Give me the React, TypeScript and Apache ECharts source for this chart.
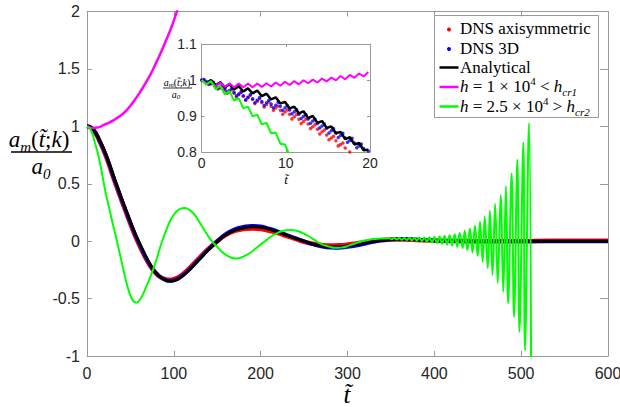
import React, { useEffect, useRef } from "react";
import * as echarts from "echarts";

// ---------- main plot data: [t, a_m/a_0] ----------
const dnsAxiMain: [number, number][] = [
  [0, 1.0], [5, 0.985], [10, 0.94], [15, 0.86], [20, 0.775], [25, 0.675], [30, 0.56], [35, 0.455],
  [40, 0.35], [45, 0.25], [50, 0.15], [55, 0.055], [60, -0.03], [65, -0.11], [70, -0.18], [75, -0.24],
  [80, -0.285], [85, -0.315], [90, -0.33], [95, -0.335], [100, -0.33], [105, -0.315], [110, -0.29],
  [120, -0.22], [130, -0.14], [140, -0.065], [150, 0.0], [160, 0.055], [170, 0.09], [180, 0.105],
  [190, 0.11], [200, 0.105], [210, 0.09], [220, 0.07], [230, 0.045], [240, 0.02], [250, -0.005],
  [260, -0.022], [270, -0.033], [280, -0.038], [290, -0.036], [300, -0.03], [310, -0.02], [320, -0.008],
  [330, 0.003], [340, 0.01], [350, 0.014], [360, 0.015], [370, 0.013], [380, 0.01], [400, 0.005],
  [420, 0.002], [450, 0.0], [500, 0.0], [530, 0.003], [600, 0.003],
];

const dns3dMain: [number, number][] = [
  [0, 1.0], [5, 0.988], [10, 0.94], [15, 0.865], [20, 0.78], [25, 0.685], [30, 0.57], [35, 0.465],
  [40, 0.36], [45, 0.26], [50, 0.16], [55, 0.065], [60, -0.02], [65, -0.1], [70, -0.175], [75, -0.235],
  [80, -0.28], [85, -0.315], [90, -0.335], [95, -0.345], [100, -0.34], [105, -0.325], [110, -0.3],
  [120, -0.23], [130, -0.15], [140, -0.07], [150, 0.0], [160, 0.065], [170, 0.105], [180, 0.125],
  [190, 0.135], [200, 0.13], [210, 0.11], [220, 0.085], [230, 0.055], [240, 0.028], [250, 0.0],
  [260, -0.028], [270, -0.047], [280, -0.058], [290, -0.06], [300, -0.052], [310, -0.04], [320, -0.024],
  [330, -0.008], [340, 0.005], [350, 0.014], [360, 0.018], [370, 0.018], [380, 0.015], [390, 0.01],
  [400, 0.006], [420, 0.0], [450, -0.003], [500, -0.003], [600, -0.003],
];

const analyticalMain: [number, number][] = [
  [0, 1.0], [5, 0.99], [10, 0.945], [15, 0.875], [20, 0.79], [25, 0.69], [30, 0.58], [35, 0.475],
  [40, 0.37], [45, 0.27], [50, 0.17], [55, 0.075], [60, -0.01], [65, -0.09], [70, -0.165], [75, -0.23],
  [80, -0.28], [85, -0.315], [90, -0.34], [95, -0.35], [100, -0.345], [105, -0.33], [110, -0.305],
  [120, -0.235], [130, -0.155], [140, -0.075], [150, -0.005], [160, 0.055], [170, 0.095], [180, 0.115],
  [190, 0.125], [200, 0.122], [210, 0.105], [220, 0.08], [230, 0.052], [240, 0.025], [250, 0.0],
  [260, -0.025], [270, -0.042], [280, -0.05], [290, -0.05], [300, -0.042], [310, -0.03], [320, -0.015],
  [330, -0.002], [340, 0.008], [350, 0.014], [360, 0.017], [370, 0.016], [380, 0.012], [390, 0.008],
  [400, 0.004], [420, 0.0], [450, -0.002], [500, 0.0], [600, 0.0],
];

const hLowMain: [number, number][] = [
  [0, 1.0], [5, 0.985], [10, 0.988], [15, 0.995], [20, 1.015], [25, 1.03], [30, 1.05], [35, 1.075],
  [40, 1.1], [45, 1.135], [50, 1.18], [55, 1.23], [60, 1.285], [65, 1.345], [70, 1.41], [75, 1.48],
  [80, 1.56], [85, 1.64], [90, 1.73], [95, 1.82], [100, 1.92], [106, 2.06],
];

const hHighMain: [number, number][] = [
  [0, 1.0], [3, 0.985], [6, 0.94], [9, 0.86], [12, 0.78], [15, 0.68], [18, 0.56], [21, 0.44],
  [24, 0.34], [27, 0.24], [30, 0.14], [33, 0.05], [36, -0.05], [39, -0.15], [42, -0.25], [45, -0.35],
  [48, -0.43], [51, -0.49], [54, -0.525], [57, -0.535], [60, -0.52], [64, -0.47], [68, -0.4],
  [72, -0.33], [76, -0.25], [80, -0.16], [84, -0.06], [88, 0.03], [92, 0.11], [96, 0.18], [100, 0.23],
  [104, 0.265], [108, 0.283], [112, 0.288], [116, 0.282], [120, 0.26], [125, 0.22], [130, 0.16],
  [135, 0.1], [140, 0.04], [145, -0.01], [150, -0.05], [155, -0.09], [160, -0.12], [165, -0.14],
  [170, -0.15], [175, -0.148], [180, -0.135], [185, -0.115], [190, -0.09], [195, -0.06], [200, -0.03],
  [205, 0.0], [210, 0.03], [215, 0.055], [220, 0.075], [225, 0.088], [230, 0.095], [235, 0.097],
  [240, 0.093], [245, 0.082], [250, 0.065], [255, 0.045], [260, 0.02], [265, -0.005], [270, -0.025],
  [275, -0.04], [280, -0.05], [285, -0.057], [290, -0.058], [295, -0.053], [300, -0.043], [305, -0.03],
  [310, -0.017], [315, -0.005], [320, 0.005], [325, 0.013], [330, 0.019], [335, 0.022], [340, 0.023],
  [345, 0.024], [348, 0.025], [350.9, 0.017], [353.8, 0.027], [356.7, 0.014], [359.6, 0.028],
  [362.5, 0.012], [365.4, 0.028], [368.3, 0.01], [371.2, 0.029], [374.1, 0.007], [377, 0.03],
  [379.9, 0.004], [382.8, 0.031], [385.7, 0.0], [388.6, 0.032], [391.5, -0.005], [394.4, 0.034],
  [397.3, -0.01], [400.2, 0.036], [403.1, -0.016], [406, 0.04], [408.9, -0.023], [411.8, 0.045],
  [414.7, -0.03], [417.6, 0.052], [420.5, -0.038], [423.4, 0.06], [426.3, -0.048], [429.2, 0.072],
  [432.7, -0.06], [435, 0.09], [438, -0.078], [441, 0.11], [444, -0.1], [446.8, 0.135], [450, -0.13],
  [452.6, 0.17], [455.7, -0.18], [458, 0.215], [461.5, -0.235], [464, 0.265], [467, -0.295],
  [470, 0.325], [473, -0.365], [476.4, 0.4], [479.4, -0.44], [482.5, 0.48], [485, -0.54], [489, 0.59],
  [491.8, -0.66], [495.6, 0.71], [498, -0.79], [502.5, 0.86], [504.4, -0.95], [509, 1.03], [511.5, -1.2],
];

// ---------- inset data (t from 0 to 20) ----------
const INSET_DNS_STEP = 0.275;
const insetDnsAxi: number[] = [
  1.0, 1.0, 0.994, 0.988, 0.989, 0.991, 0.983, 0.975, 0.978, 0.982, 0.972, 0.963, 0.967, 0.973, 0.963,
  0.953, 0.959, 0.965, 0.955, 0.944, 0.951, 0.958, 0.946, 0.935, 0.941, 0.948, 0.937, 0.925, 0.932,
  0.939, 0.927, 0.916, 0.922, 0.928, 0.916, 0.905, 0.911, 0.917, 0.905, 0.892, 0.898, 0.904, 0.891,
  0.879, 0.885, 0.891, 0.878, 0.865, 0.87, 0.876, 0.863, 0.85, 0.856, 0.861, 0.847, 0.834, 0.839,
  0.844, 0.831, 0.817, 0.821, 0.825, 0.811, 0.796, 0.8,
];
const insetDns3d: number[] = [
  1.0, 1.001, 0.996, 0.989, 0.991, 0.994, 0.986, 0.978, 0.981, 0.986, 0.976, 0.967, 0.971, 0.977,
  0.966, 0.956, 0.961, 0.967, 0.956, 0.945, 0.952, 0.959, 0.948, 0.937, 0.944, 0.951, 0.94, 0.929,
  0.937, 0.944, 0.933, 0.923, 0.93, 0.938, 0.927, 0.916, 0.923, 0.929, 0.917, 0.906, 0.912, 0.918,
  0.905, 0.893, 0.899, 0.904, 0.892, 0.88, 0.886, 0.891, 0.879, 0.867, 0.872, 0.878, 0.866, 0.853,
  0.859, 0.865, 0.853, 0.84, 0.846, 0.852, 0.839, 0.827, 0.832, 0.838, 0.825, 0.812, 0.817, 0.822,
  0.81, 0.797, 0.803,
];
const INSET_LINE_STEP = 0.55;
const insetAnalytical: number[] = [
  1.0, 0.991, 1.0, 0.985, 0.994, 0.979, 0.988, 0.974, 0.983, 0.968, 0.977, 0.963, 0.971, 0.955, 0.962,
  0.946, 0.952, 0.935, 0.939, 0.921, 0.926, 0.907, 0.913, 0.894, 0.9, 0.881, 0.886, 0.867, 0.871,
  0.852, 0.856, 0.836, 0.841, 0.821, 0.825, 0.805, 0.806,
];
const insetHLow: number[] = [
  1.0, 0.99, 0.995, 0.983, 0.992, 0.981, 0.991, 0.98, 0.99, 0.98, 0.99, 0.98, 0.99, 0.981, 0.991,
  0.982, 0.993, 0.984, 0.995, 0.986, 0.997, 0.988, 0.999, 0.991, 1.001, 0.993, 1.004, 0.996, 1.007,
  0.999, 1.011, 1.002, 1.014, 1.006, 1.018, 1.01, 1.022,
];
const insetHHigh: number[] = [
  1.0, 0.987, 0.997, 0.974, 0.984, 0.96, 0.969, 0.943, 0.949, 0.921, 0.926, 0.899, 0.904, 0.877,
  0.881, 0.852, 0.854, 0.823, 0.821, 0.79,
];

// ---------- axes ----------
const mainXTicks = { min: 0, max: 600, interval: 100 };
const mainYTicks = { min: -1, max: 2, interval: 0.5 };
const insetXTicks = { min: 0, max: 20, interval: 10 };
const insetYTicks = { min: 0.8, max: 1.1, interval: 0.1 };

const legendLabels = [
  "DNS axisymmetric",
  "DNS 3D",
  "Analytical",
  "{i|h} = 1 × 10{sup|4} < {i|h}{sub|cr1}",
  "{i|h} = 2.5 × 10{sup|4} > {i|h}{sub|cr2}",
];

const RED = "#ff0000";
const BLUE = "#0000ff";
const BLACK = "#000000";
const MAGENTA = "#ff00ff";
const GREEN = "#00ff00";
const AXIS = "#9a9a9a";
const LABEL = "#262626";
const SERIF = "Liberation Serif";
const SANS = "Liberation Sans";

const withStep = (vals: number[], step: number): [number, number][] =>
  vals.map((v, i) => [i * step, v]);

function axis(gridIndex: number, position: string, ticks: any, showLabel: boolean, size: number, margin: number, tickLen: number) {
  return {
    gridIndex,
    type: "value",
    position,
    ...ticks,
    axisLine: { show: true, onZero: false, lineStyle: { color: AXIS, width: 1 } },
    axisTick: { show: true, inside: true, length: tickLen, lineStyle: { color: AXIS, width: 1 } },
    axisLabel: { show: showLabel, fontSize: size, color: LABEL, fontFamily: SANS, margin },
    splitLine: { show: false },
  };
}

const richMath = (size: number) => ({
  i: { fontStyle: "italic", fontSize: size, fontFamily: SERIF, lineHeight: Math.round(size * 1.3) },
  n: { fontSize: size, fontFamily: SERIF, lineHeight: Math.round(size * 1.3) },
  sup: { fontSize: Math.round(size * 0.65), fontFamily: SERIF, verticalAlign: "top", lineHeight: Math.round(size * 0.7) },
  sub: { fontSize: Math.round(size * 0.65), fontFamily: SERIF, fontStyle: "italic", verticalAlign: "bottom", lineHeight: Math.round(size * 0.7) },
});

export default function App() {
  const ref = useRef<HTMLDivElement>(null);
  useEffect(() => {
    if (!ref.current) return;
    const chart = echarts.init(ref.current, undefined, { renderer: "svg" });
    const legendRows = [28.5, 48, 67, 86.5, 106];
    const legendGraphics: any[] = [
      { type: "rect", shape: { x: 434.5, y: 15.5, width: 164, height: 102 }, style: { fill: "#fff", stroke: AXIS, lineWidth: 1 } },
      { type: "circle", shape: { cx: 449, cy: 29.5, r: 2 }, style: { fill: RED } },
      { type: "circle", shape: { cx: 449, cy: 49, r: 2 }, style: { fill: BLUE } },
      { type: "line", shape: { x1: 439.5, y1: 67.5, x2: 458.5, y2: 67.5 }, style: { stroke: BLACK, lineWidth: 2.5 } },
      { type: "line", shape: { x1: 439.5, y1: 87, x2: 458.5, y2: 87 }, style: { stroke: MAGENTA, lineWidth: 2.5 } },
      { type: "line", shape: { x1: 439.5, y1: 106.5, x2: 458.5, y2: 106.5 }, style: { stroke: GREEN, lineWidth: 2.5 } },
    ];
    legendLabels.forEach((t, i) => {
      legendGraphics.push({
        type: "text",
        x: 460,
        y: legendRows[i],
        style: {
          text: t,
          fontSize: 17,
          fontFamily: SERIF,
          fill: "#000",
          verticalAlign: "middle",
          lineHeight: 22,
          rich: richMath(17),
        },
      });
    });

    const labelGraphics: any[] = [
      // main y label
      {
        type: "text", x: 39, y: 139,
        style: { text: "{i|a}{sub|m}{n|(}{i|t\u0303}{n|;}{i|k}{n|)}", fontSize: 23, fontFamily: SERIF, fill: "#000", align: "center", verticalAlign: "middle", lineHeight: 29, rich: richMath(23) },
      },
      { type: "line", shape: { x1: 11, y1: 152, x2: 72, y2: 152 }, style: { stroke: "#000", lineWidth: 1.3 } },
      {
        type: "text", x: 41, y: 166,
        style: { text: "{i|a}{sub|0}", fontSize: 23, fontFamily: SERIF, fill: "#000", align: "center", verticalAlign: "middle", lineHeight: 29, rich: richMath(23) },
      },
      // main x label
      { type: "text", x: 347, y: 394, style: { text: "t\u0303", fontSize: 25, fontStyle: "italic", fontFamily: SERIF, fill: "#000", align: "center", verticalAlign: "middle" } },
      // inset y label
      {
        type: "text", x: 177, y: 82,
        style: { text: "{i|a}{sub|m}{n|(}{i|t\u0303}{n|;}{i|k}{n|)}", fontSize: 10, fontFamily: SERIF, fill: "#000", align: "center", verticalAlign: "middle", lineHeight: 13, rich: richMath(10) },
      },
      { type: "line", shape: { x1: 163, y1: 88, x2: 192, y2: 88 }, style: { stroke: "#000", lineWidth: 0.8 } },
      {
        type: "text", x: 176, y: 94,
        style: { text: "{i|a}{sub|0}", fontSize: 10, fontFamily: SERIF, fill: "#000", align: "center", verticalAlign: "middle", lineHeight: 13, rich: richMath(10) },
      },
      // inset x label
      { type: "text", x: 286, y: 179, style: { text: "t\u0303", fontSize: 13, fontStyle: "italic", fontFamily: SERIF, fill: "#000", align: "center", verticalAlign: "middle" } },
    ];

    const line = (data: any, color: string, width: number, xi: number, yi: number, smooth: any, z: number) => ({
      type: "line", data, xAxisIndex: xi, yAxisIndex: yi, showSymbol: false, symbol: "none", smooth,
      clip: true, silent: true, z, lineStyle: { color, width }, emphasis: { disabled: true },
    });
    const dots = (data: any, color: string, xi: number, yi: number, size: number, z: number) => ({
      type: "scatter", data, xAxisIndex: xi, yAxisIndex: yi, symbol: "circle", symbolSize: size,
      clip: true, silent: true, z, itemStyle: { color }, emphasis: { disabled: true },
    });

    chart.setOption({
      animation: false,
      backgroundColor: "#fff",
      grid: [
        { left: 87, top: 11.5, width: 521, height: 344.5, containLabel: false, outerBoundsMode: "none" },
        { left: 201.7, top: 44, width: 168.3, height: 108, containLabel: false, outerBoundsMode: "none" },
      ],
      xAxis: [
        axis(0, "bottom", mainXTicks, true, 16, 9, 5),
        axis(0, "top", mainXTicks, false, 16, 9, 5),
        axis(1, "bottom", insetXTicks, true, 14, 4, 3),
        axis(1, "top", insetXTicks, false, 14, 4, 3),
      ],
      yAxis: [
        axis(0, "left", mainYTicks, true, 16, 7, 5),
        axis(0, "right", mainYTicks, false, 16, 7, 8),
        axis(1, "left", insetYTicks, true, 14, 5, 3),
        axis(1, "right", insetYTicks, false, 14, 5, 3),
      ],
      series: [
        line(dnsAxiMain, RED, 4.5, 0, 0, true, 2),
        line(dns3dMain, BLUE, 3.5, 0, 0, true, 3),
        line(analyticalMain, BLACK, 3, 0, 0, true, 4),
        line(hLowMain, MAGENTA, 2.5, 0, 0, true, 5),
        line(hHighMain, GREEN, 2, 0, 0, 0.4, 6),
        dots(withStep(insetDnsAxi, INSET_DNS_STEP), RED, 2, 2, 3.5, 7),
        dots(withStep(insetDns3d, INSET_DNS_STEP), BLUE, 2, 2, 3.5, 8),
        line(withStep(insetAnalytical, INSET_LINE_STEP), BLACK, 2.5, 2, 2, false, 9),
        line(withStep(insetHLow, INSET_LINE_STEP), MAGENTA, 2, 2, 2, false, 10),
        line(withStep(insetHHigh, INSET_LINE_STEP), GREEN, 2, 2, 2, false, 11),
      ],
      graphic: [...legendGraphics, ...labelGraphics],
    });
    return () => chart.dispose();
  }, []);
  return (
    <div
      ref={ref}
      style={{ position: "fixed", left: 0, top: 0, width: 620, height: 407, background: "#fff" }}
    />
  );
}
